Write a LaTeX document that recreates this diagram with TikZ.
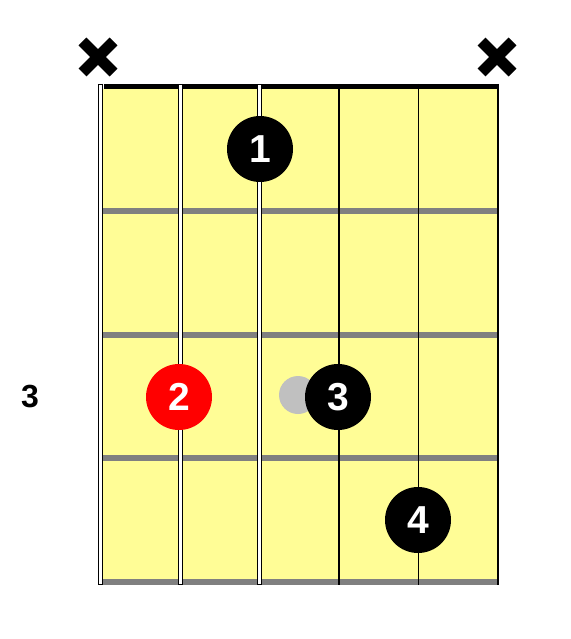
\documentclass[tikz,border=0pt]{standalone}
\usepackage{fontspec}
\setmainfont{Liberation Sans}
\definecolor{board}{RGB}{255,253,150}
\definecolor{fretgray}{RGB}{128,128,128}
\definecolor{ghost}{RGB}{192,192,192}
\definecolor{dotred}{RGB}{255,0,0}
\begin{document}
\begin{tikzpicture}[x=1pt,y=-1pt,
  finger/.style={circle,minimum size=66pt,inner sep=0pt,text=white,font=\fontsize{39}{39}\selectfont\bfseries},
  fretline/.style={draw=fretgray,line width=6pt},
  thinstring/.style={draw=black,line width=1.3pt},
  mute/.style={line width=11pt,line cap=butt}]
\useasboundingbox (0,0) rectangle (570,639);
% board
\fill[board] (103,89) rectangle (498,582);
\fill[black] (103.5,84) rectangle (499,89);
% frets
\foreach \y in {211,334.5,458,582}{\draw[fretline] (103,\y) -- (498,\y);}
% strings
\foreach \x in {100.5,180.5,259.5}{
  \draw[black,line width=4.6pt] (\x,84) -- (\x,585);
  \draw[white,line width=2.4pt] (\x,85) -- (\x,584);}
\foreach \x in {339,418.5,498}{\draw[thinstring] (\x,84) -- (\x,585);}
% mutes
\foreach \x/\n in {98/ma,497/mb}{
  \coordinate (\n) at (\x,57);
  \draw[mute] ([shift={(-15.5,-15.5)}]\n) -- ([shift={(15.5,15.5)}]\n);
  \draw[mute] ([shift={(-15.5,15.5)}]\n) -- ([shift={(15.5,-15.5)}]\n);}
% fret label
\node[font=\fontsize{32}{32}\selectfont\bfseries] (lab) at (30,397) {3};
% fingers
\node[circle,fill=ghost,minimum size=38pt,inner sep=0pt] (g) at (298,395) {};
\node[finger,fill=black] (f1) at (260,149) {1};
\node[finger,fill=dotred] (f2) at (179,397) {2};
\node[finger,fill=black] (f3) at (338,397) {3};
\node[finger,fill=black] (f4) at (418,520) {4};
\end{tikzpicture}
\end{document}
